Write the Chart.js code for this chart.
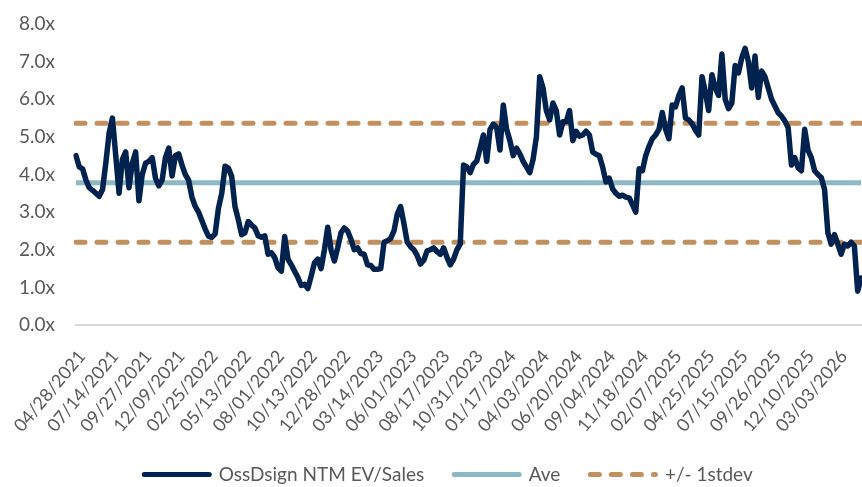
<!DOCTYPE html>
<html>
<head>
<meta charset="utf-8">
<script src="https://cdn.jsdelivr.net/npm/chart.js@4.4.1/dist/chart.umd.min.js"></script>
<style>
  html, body { margin: 0; padding: 0; background: #fff; }
  #wrap { width: 862px; height: 487px; }
</style>
</head>
<body>
<div id="wrap"><canvas id="chart"></canvas></div>
<script>
// tick dates shown on the x axis (one every 10 points)
const tickLabels = [
  "04/28/2021", "07/14/2021", "09/27/2021", "12/09/2021", "02/25/2022", "05/13/2022",
  "08/01/2022", "10/13/2022", "12/28/2022", "03/14/2023", "06/01/2023", "08/17/2023",
  "10/31/2023", "01/17/2024", "04/03/2024", "06/20/2024", "09/04/2024", "11/18/2024",
  "02/07/2025", "04/25/2025", "07/15/2025", "09/26/2025", "12/10/2025", "03/03/2026"
];

// OssDsign NTM EV/Sales
const evSales = [
  4.5, 4.2, 4.15, 3.85, 3.65, 3.58, 3.5, 3.42, 3.6, 4.3,
  5.1, 5.5, 4.5, 3.5, 4.4, 4.6, 3.65, 4.3, 4.6, 3.3,
  4.0, 4.3, 4.35, 4.45, 3.9, 3.7, 3.85, 4.45, 4.7, 3.96,
  4.5, 4.55, 4.25, 4.0, 3.85, 3.4, 3.15, 3.0, 2.78, 2.55,
  2.36, 2.33, 2.42, 3.1, 3.5, 4.22, 4.17, 3.95, 3.15, 2.8,
  2.4, 2.45, 2.75, 2.66, 2.58, 2.37, 2.33, 2.37, 1.88, 1.92,
  1.79, 1.52, 1.43, 2.35, 1.75, 1.6, 1.43, 1.26, 1.05, 1.08,
  0.97, 1.3, 1.65, 1.75, 1.5, 2.0, 2.6, 2.0, 1.7, 2.05,
  2.45, 2.58, 2.5, 2.28, 2.0, 2.05, 1.9, 1.88, 1.6, 1.58,
  1.48, 1.48, 1.5, 2.2, 2.24, 2.3, 2.5, 2.95, 3.15, 2.7,
  2.2, 2.08, 2.0, 1.85, 1.62, 1.72, 1.97, 2.0, 2.05, 1.95,
  1.88, 2.05, 1.8, 1.6, 1.75, 2.0, 2.15, 4.25, 4.2, 4.05,
  4.27, 4.36, 4.7, 5.05, 4.35, 5.2, 5.34, 5.25, 4.65, 5.85,
  5.2, 4.9, 4.5, 4.7, 4.55, 4.35, 4.2, 4.05, 4.4, 5.0,
  6.6, 6.3, 5.7, 5.45, 5.9, 5.7, 5.05, 5.4, 5.4, 5.7,
  4.9, 5.15, 5.02, 5.05, 5.15, 5.05, 4.6, 4.54, 4.5, 4.2,
  3.8, 3.9, 3.62, 3.5, 3.42, 3.45, 3.4, 3.38, 3.2, 3.0,
  4.15, 4.1, 4.5, 4.75, 4.95, 5.05, 5.2, 5.65, 5.2, 4.95,
  5.85, 5.8, 6.1, 6.3, 5.5, 5.45, 5.35, 5.18, 5.05, 6.6,
  6.2, 5.7, 6.65, 6.3, 6.1, 7.2, 6.0, 5.75, 5.9, 6.9,
  6.7, 7.1, 7.35, 7.0, 6.3, 7.15, 6.05, 6.75, 6.6, 6.3,
  6.0, 5.82, 5.64, 5.55, 5.42, 5.25, 4.25, 4.45, 4.18, 4.1,
  5.2, 4.65, 4.45, 4.1, 4.0, 3.92, 3.6, 2.45, 2.15, 2.4,
  2.15, 1.88, 2.15, 2.1, 2.2, 2.1, 0.9, 1.25
];

const aveValue = 3.78;
const stdevValue = 1.58;
const yTicks = [0, 1, 2, 3, 4, 5, 6, 7, 8];

const TICK_EVERY = 10;
const labels = evSales.map((v, i) => (i % TICK_EVERY === 0 ? tickLabels[i / TICK_EVERY] : ""));
const aveLine = evSales.map(() => aveValue);
const upperLine = evSales.map(() => aveValue + stdevValue);
const lowerLine = evSales.map(() => aveValue - stdevValue);

const textColor = "#595959";
const fontFamily = "Lato, 'Open Sans', sans-serif";
const dash = [9, 12];

// nudge the legend a bit to the right, like the original
const legendShift = {
  id: "legendShift",
  afterLayout(chart) {
    chart.legend.left += 18;
    chart.legend.right += 18;
  },
};

const ctx = document.getElementById("chart").getContext("2d");
const chart = new Chart(ctx, {
  type: "line",
  data: {
    labels: labels,
    datasets: [
      {
        label: "OssDsign NTM EV/Sales",
        data: evSales,
        borderColor: "#00224f",
        backgroundColor: "#00224f",
        borderWidth: 5.5,
        borderJoinStyle: "round",
        borderCapStyle: "round",
        pointRadius: 0,
        tension: 0,
        order: 1,
      },
      {
        label: "Ave",
        data: aveLine,
        borderColor: "#8db9c6",
        backgroundColor: "#8db9c6",
        borderWidth: 5,
        pointRadius: 0,
        order: 2,
      },
      {
        label: "+/- 1stdev",
        data: upperLine,
        borderColor: "#c28f5e",
        backgroundColor: "#c28f5e",
        borderWidth: 5,
        borderDash: dash,
        borderCapStyle: "round",
        pointRadius: 0,
        order: 3,
      },
      {
        label: "lower",
        data: lowerLine,
        borderColor: "#c28f5e",
        backgroundColor: "#c28f5e",
        borderWidth: 5,
        borderDash: dash,
        borderCapStyle: "round",
        pointRadius: 0,
        order: 3,
      },
    ],
  },
  options: {
    responsive: true,
    maintainAspectRatio: false,
    animation: false,
    layout: { padding: { top: 24, right: 1, bottom: -7, left: 0 } },
    plugins: {
      tooltip: { enabled: false },
      legend: {
        position: "bottom",
        labels: {
          usePointStyle: true,
          pointStyle: "line",
          pointStyleWidth: 65,
          boxHeight: 19,
          padding: 30,
          color: textColor,
          font: { family: fontFamily, size: 19 },
          generateLabels: (chart) => {
            const items = Chart.defaults.plugins.legend.labels.generateLabels(chart);
            items.forEach((it) => {
              const ds = chart.data.datasets[it.datasetIndex];
              it.lineWidth = 5;
              it.lineCap = "round";
              it.lineDash = ds.borderDash || [];
              it.strokeStyle = ds.borderColor;
            });
            return items.filter((it) => it.text !== "lower");
          },
        },
      },
    },
    scales: {
      x: {
        type: "category",
        offset: false,
        grid: { display: false, drawTicks: false },
        border: { display: true, color: "#d9d9d9", width: 2 },
        ticks: {
          autoSkip: false,
          maxRotation: 50,
          minRotation: 50,
          padding: 21,
          labelOffset: 6,
          color: textColor,
          font: { family: fontFamily, size: 18 },
        },
        afterFit: (s) => {
          s.height = 110;
          s.paddingLeft = 0;
          s.paddingRight = 0;
        },
      },
      y: {
        min: 0,
        max: 8,
        afterBuildTicks: (s) => { s.ticks = yTicks.map((v) => ({ value: v })); },
        grid: { display: false, drawTicks: false },
        border: { display: false },
        ticks: {
          padding: 21,
          color: textColor,
          font: { family: fontFamily, size: 19 },
          callback: (v) => v.toFixed(1) + "x",
        },
        afterFit: (s) => {
          s.width = 76;
          s.paddingTop = 0;
          s.paddingBottom = 0;
        },
      },
    },
  },
  plugins: [legendShift],
});
</script>
</body>
</html>
